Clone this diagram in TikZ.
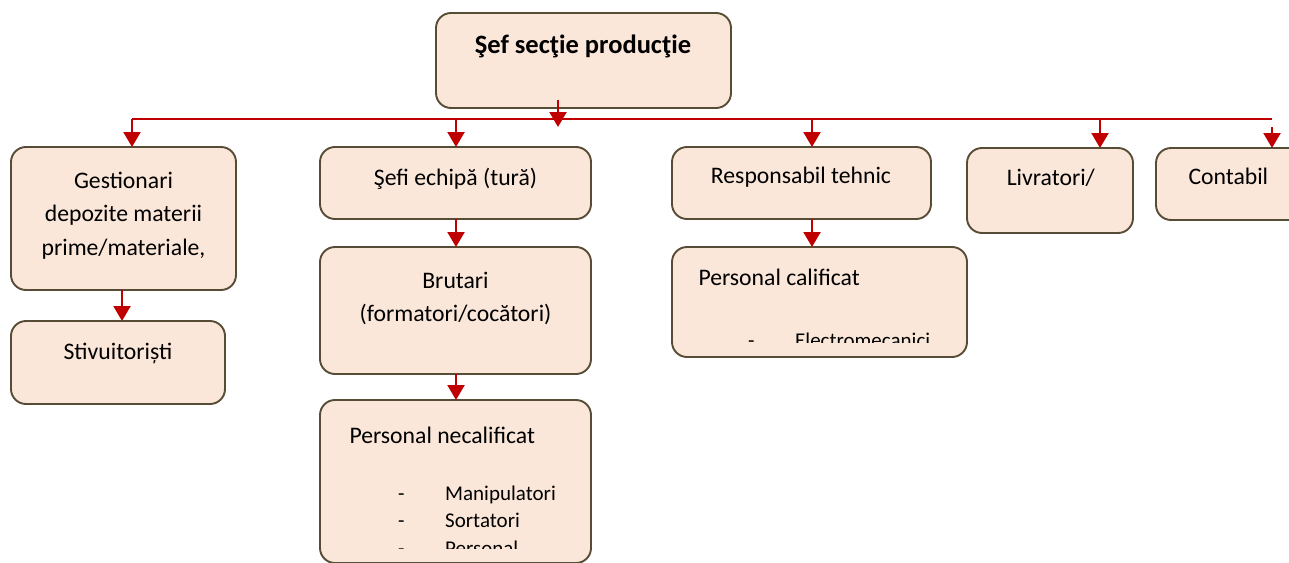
\documentclass[tikz,border=0pt]{standalone}
\usepackage{fontspec}
\setmainfont{Carlito}
\usetikzlibrary{arrows.meta}
\definecolor{boxfill}{HTML}{FBE7D9}
\definecolor{boxline}{HTML}{574C35}
\definecolor{arrred}{HTML}{C00000}
\tikzset{
  box/.style={draw=boxline, fill=boxfill, line width=1.9pt, rounded corners=15pt, inner sep=0pt, outer sep=0pt},
  lbl/.style={font=\fontsize{23.7}{28}\selectfont, anchor=base, inner sep=0pt},
  lblw/.style={lbl, anchor=base west},
  item/.style={font=\fontsize{21}{25}\selectfont, anchor=base west, inner sep=0pt},
  ttl/.style={font=\fontsize{26.5}{30}\selectfont\bfseries, anchor=base, inner sep=0pt},
  arr/.style={draw=arrred, line width=2.2pt, -{Triangle[length=15pt,width=17pt]}},
  busline/.style={draw=arrred, line width=2.2pt},
}
\begin{document}
\begin{tikzpicture}[x=1pt,y=-1pt]
\useasboundingbox (0,0) rectangle (1289,562);
% boxes
\node[box, minimum width=295pt, minimum height=95pt] (top) at (583.5,60.5) {};
\node[box, minimum width=225pt, minimum height=143pt] (g) at (123.5,218.5) {};
\node[box, minimum width=214pt, minimum height=83pt] (st) at (118,362.5) {};
\node[box, minimum width=271pt, minimum height=72pt] (se) at (455.5,183) {};
\node[box, minimum width=271pt, minimum height=127pt] (br) at (455.5,310.5) {};
\node[box, minimum width=271pt, minimum height=163pt] (pn) at (455.5,481.5) {};
\node[box, minimum width=259pt, minimum height=72pt] (rt) at (801.5,183) {};
\node[box, minimum width=295pt, minimum height=110pt] (pc) at (819.5,302) {};
\node[box, minimum width=166pt, minimum height=85pt] (lv) at (1050,190.5) {};
\node[box, minimum width=174pt, minimum height=72pt] (ct) at (1243,184) {};
% texts
\node[ttl] (ttop) at (583,53.3) {Şef secţie producţie};
\node[lbl] (tg1) at (123.5,188) {Gestionari};
\node[lbl] (tg2) at (123.5,221.7) {depozite materii};
\node[lbl] (tg3) at (123.5,255) {prime/materiale,};
\node[lbl] (tst) at (118,359) {Stivuitoriști};
\node[lbl] (tse) at (455.5,185) {Şefi echipă (tură)};
\node[lbl] (tbr1) at (455.5,288.3) {Brutari};
\node[lbl] (tbr2) at (455.5,321.7) {(formatori/cocători)};
\node[lbl] (trt) at (801,183.3) {Responsabil tehnic};
\node[lbl] (tlv) at (1050.8,185) {Livratori/};
\node[lblw] (tct) at (1188.3,184) {Contabil};
\begin{scope}
  \clip (321,401) rectangle (590,548);
  \node[lblw] (tpn) at (349.3,443.3) {Personal necalificat};
  \node[item] (d1) at (398,500) {-};
  \node[item] (i1) at (445,500) {Manipulatori};
  \node[item] (d2) at (398,527.7) {-};
  \node[item] (i2) at (445,527.7) {Sortatori};
  \node[item] (d3) at (398,555) {-};
  \node[item] (i3) at (445,555) {Personal};
\end{scope}
\begin{scope}
  \clip (673,248) rectangle (966,342);
  \node[lblw] (tpc) at (698.3,285) {Personal calificat};
  \node[item] (d4) at (748,347) {-};
  \node[item] (i4) at (795,347) {Electromecanici};
\end{scope}
% bus and arrows
\coordinate (b0) at (558,119);
\coordinate (t1) at (132,119);
\coordinate (t2) at (456,119);
\coordinate (t3) at (812,119);
\coordinate (t4) at (1100,119);
\coordinate (t5) at (1272,119);
\coordinate (x1) at (122,0);
\draw[busline] (t1) -- (t5);
\draw[arr] ([yshift=8pt]top.south -| b0) -- ([yshift=-8pt]b0);
\draw[arr] (t1) -- (t1 |- g.north);
\draw[arr] (t2) -- (t2 |- se.north);
\draw[arr] (t3) -- (t3 |- rt.north);
\draw[arr] (t4) -- (t4 |- lv.north);
\draw[arr] ([yshift=-8pt]t5) -- (t5 |- ct.north);
\draw[arr] (g.south -| x1) -- (st.north -| x1);
\draw[arr] (se.south -| t2) -- (br.north -| t2);
\draw[arr] (br.south -| t2) -- (pn.north -| t2);
\draw[arr] (rt.south -| t3) -- (pc.north -| t3);
\end{tikzpicture}
\end{document}
